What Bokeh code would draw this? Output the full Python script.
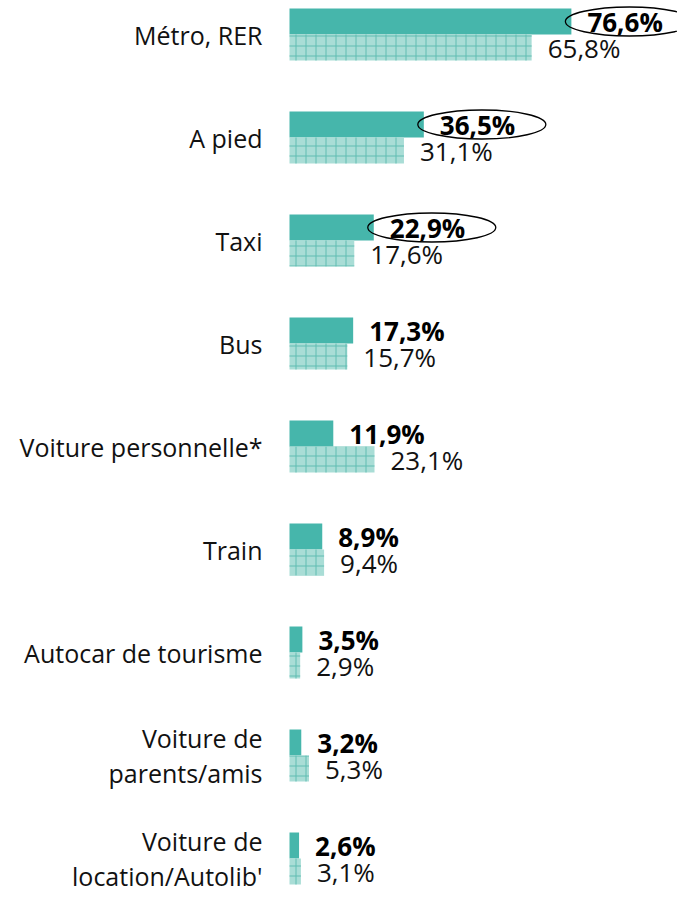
from bokeh.plotting import figure
from bokeh.models import ColumnDataSource, Range1d
from bokeh.core.properties import value
from bokeh.embed import file_html
from bokeh.resources import INLINE

categories = ["Métro, RER", "A pied", "Taxi", "Bus", "Voiture personnelle*", "Train",
              "Autocar de tourisme", "Voiture de\nparents/amis", "Voiture de\nlocation/Autolib'"]
serie_a = [76.6, 36.5, 22.9, 17.3, 11.9, 8.9, 3.5, 3.2, 2.6]
serie_b = [65.8, 31.1, 17.6, 15.7, 23.1, 9.4, 2.9, 5.3, 3.1]
highlight = [True, True, True, False, False, False, False, False, False]

W, H = 677, 896
px_per_unit = 3.68
x0 = -289 / px_per_unit
x1 = x0 + W / px_per_unit
row_px = 103.0
top_px = 34.0
n = len(categories)

def fmt(v):
    return f"{v:.1f}".replace(".", ",") + "%"

ys = [-i for i in range(n)]
bh = 26.0 / row_px

src = ColumnDataSource(dict(
    y=ys, a=serie_a, b=serie_b, cat=categories,
    la=[fmt(v) for v in serie_a], lb=[fmt(v) for v in serie_b],
    ya=[y + bh / 2 for y in ys], yb=[y - bh / 2 for y in ys],
))

p = figure(width=W, height=H, output_backend="svg", toolbar_location=None,
           x_range=Range1d(x0, x1),
           y_range=Range1d(-(H - top_px) / row_px, top_px / row_px),
           min_border=0, outline_line_color=None)
p.xaxis.visible = False
p.yaxis.visible = False
p.xgrid.visible = False
p.ygrid.visible = False
p.background_fill_color = "white"
p.border_fill_color = "white"

teal = "#46b6ab"
p.hbar(y="ya", left=0, right="a", height=bh, source=src, fill_color=teal, line_color=None)
p.hbar(y="yb", left=0, right="b", height=bh, source=src, fill_color="#a9ddd6",
       line_color=None, hatch_pattern="+", hatch_color="#5fbdb2", hatch_scale=10,
       hatch_weight=1)

font = value("Open Sans")
p.text(x=0, y="y", text="cat", source=src, x_offset=-27, text_align="right",
       text_baseline="middle", text_font=font, text_font_size="25px",
       text_color="#111111", text_line_height=1.03)
p.text(x="a", y="ya", text="la", source=src, x_offset=16, text_align="left",
       text_baseline="middle", text_font=font, text_font_size="26px",
       text_font_style="bold", text_color="#000000")
p.text(x="b", y="yb", text="lb", source=src, x_offset=16, text_align="left",
       text_baseline="middle", text_font=font, text_font_size="26px",
       text_color="#111111")

hx = [v + 58 / px_per_unit for v, h in zip(serie_a, highlight) if h]
hy = [y + bh / 2 for y, h in zip(ys, highlight) if h]
p.ellipse(x=hx, y=hy, width=128, height=29, width_units="screen", height_units="screen",
          fill_color=None, line_color="#000000", line_width=1.3)

open("out.html", "w").write(file_html(p, INLINE))
